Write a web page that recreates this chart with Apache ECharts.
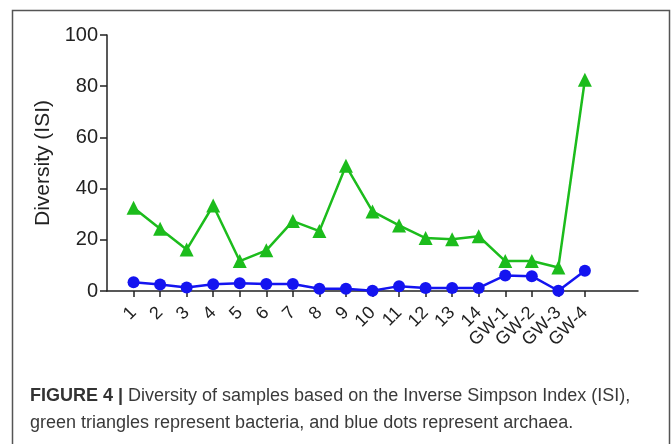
<!DOCTYPE html>
<html>
<head>
<meta charset="utf-8">
<script src="https://cdn.jsdelivr.net/npm/echarts@6/dist/echarts.min.js"></script>
<style>
  html, body { margin: 0; padding: 0; background: #fff; }
  #chart { width: 672px; height: 444px; }
</style>
</head>
<body>
<div id="chart"></div>
<script>
// Sample names along the x axis
const samples = ['1', '2', '3', '4', '5', '6', '7', '8', '9', '10', '11', '12', '13', '14',
                 'GW-1', 'GW-2', 'GW-3', 'GW-4'];
// Inverse Simpson Index per sample
const bacteria = [32.5, 24.3, 16.2, 33.4, 11.7, 15.9, 27.3, 23.4, 48.9, 31.1, 25.6, 20.7, 20.2, 21.4,
                  11.7, 11.7, 9.2, 82.5];
const archaea = [3.4, 2.5, 1.4, 2.6, 3.0, 2.7, 2.7, 0.9, 0.9, 0.1, 1.9, 1.2, 1.2, 1.2,
                 6.1, 5.8, 0.1, 7.9];
const yTicks = [0, 20, 40, 60, 80, 100];

// Pad the category axis with empty slots so the axis line runs past the samples
const axisCats = [''].concat(samples, ['', '']);
const pad = (arr) => [null].concat(arr, [null, null]);

const GREEN = '#1cbc1c';
const BLUE = '#1414f0';
const AXIS = '#222';
const FONT = 'Liberation Sans, Arial, sans-serif';

const chart = echarts.init(document.getElementById('chart'));
chart.setOption({
  animation: false,
  backgroundColor: '#fff',
  grid: { left: 107, top: 35, right: 34, bottom: 153, containLabel: false },
  graphic: [
    {
      type: 'rect', z: -1,
      shape: { x: 12.5, y: 10.5, width: 657, height: 460 },
      style: { fill: 'none', stroke: '#555', lineWidth: 1.5 }
    },
    {
      type: 'text', left: 30, top: 383,
      style: {
        text: '{b|FIGURE 4 |} Diversity of samples based on the Inverse Simpson Index (ISI),\n' +
              'green triangles represent bacteria, and blue dots represent archaea.',
        fontFamily: FONT,
        fontSize: 18, lineHeight: 27, fill: '#3a3a3a',
        rich: { b: { fontWeight: 'bold', fontSize: 18, fill: '#333', fontFamily: FONT } }
      }
    }
  ],
  xAxis: {
    type: 'category',
    data: axisCats,
    boundaryGap: false,
    axisLine: { lineStyle: { color: AXIS, width: 1.5 } },
    axisTick: {
      length: 6,
      lineStyle: { color: AXIS, width: 1.5 },
      interval: (i, v) => v !== ''
    },
    axisLabel: {
      interval: 0, rotate: 45, margin: 19,
      fontSize: 18, color: AXIS, fontFamily: FONT
    },
    splitLine: { show: false }
  },
  yAxis: {
    type: 'value',
    min: yTicks[0], max: yTicks[yTicks.length - 1], interval: 20,
    name: 'Diversity (ISI)',
    nameLocation: 'middle', nameGap: 46,
    nameTextStyle: { fontSize: 21, color: AXIS, fontFamily: FONT },
    axisLine: { show: true, lineStyle: { color: AXIS, width: 1.5 } },
    axisTick: { show: true, length: 7, lineStyle: { color: AXIS, width: 1.5 } },
    axisLabel: { margin: 9, fontSize: 20, color: AXIS, fontFamily: FONT },
    splitLine: { show: false }
  },
  series: [
    {
      name: 'Bacteria', type: 'line', data: pad(bacteria),
      symbol: 'triangle', symbolSize: 14,
      lineStyle: { color: GREEN, width: 2.5 },
      itemStyle: { color: GREEN },
      z: 2
    },
    {
      name: 'Archaea', type: 'line', data: pad(archaea),
      symbol: 'circle', symbolSize: 12,
      lineStyle: { color: BLUE, width: 2.5 },
      itemStyle: { color: BLUE },
      z: 3
    }
  ]
});
</script>
</body>
</html>
